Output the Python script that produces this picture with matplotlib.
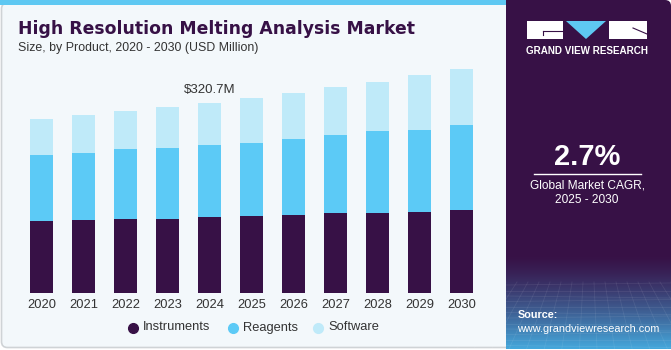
import matplotlib.pyplot as plt
import numpy as np
from matplotlib.patches import FancyBboxPatch, Rectangle, Polygon

years = ['2020', '2021', '2022', '2023', '2024', '2025', '2026', '2027', '2028', '2029', '2030']
instruments = [120.8, 122.5, 124.2, 125.2, 128.0, 129.2, 131.9, 134.3, 135.3, 137.0, 140.4]
reagents = [111.7, 112.9, 118.0, 119.6, 121.8, 124.0, 127.0, 131.9, 137.7, 138.2, 143.2]
software = [60.7, 64.5, 64.0, 68.6, 70.9, 75.3, 78.5, 80.9, 82.6, 92.2, 93.9]
series = ['Instruments', 'Reagents', 'Software']
colors = ['#371146', '#5ccaf6', '#bfeaf9']
highlight = 4
highlight_label = '$320.7M'

W, H = 671, 350
fig = plt.figure(figsize=(W / 100, H / 100), dpi=100)
fig.patch.set_facecolor('white')
plt.rcParams['font.family'] = ['Liberation Sans', 'DejaVu Sans']


def fx(px):
    return px / W


def fy(py):
    return 1 - py / H


# background panels
bg = fig.add_axes([0, 0, 1, 1])
bg.set_xlim(0, W)
bg.set_ylim(H, 0)
bg.axis('off')
bg.add_patch(FancyBboxPatch((1.5, 3), 520, 344.5, boxstyle='round,pad=0,rounding_size=6',
                            facecolor='#f3f8fb', edgecolor='#cfd3d6', linewidth=1.2))
bg.add_patch(Rectangle((0, 0), 506, 5, facecolor='#5ec8f2', edgecolor='none'))
bg.add_patch(FancyBboxPatch((506, 0), 165, 349, boxstyle='round,pad=0,rounding_size=6',
                            facecolor='#371146', edgecolor='none'))
bg.add_patch(Rectangle((506, 0), 10, 349, facecolor='#371146', edgecolor='none'))

# gradient at the bottom of the side panel
grad = np.linspace(0, 1, 100).reshape(-1, 1)
c1 = np.array([0x37, 0x11, 0x46]) / 255
c2 = np.array([0x45, 0xa8, 0xdc]) / 255
img = c1 + (c2 - c1) * (grad[..., None] ** 1.3)
bg.imshow(img, extent=(506, 671, 349, 255), aspect='auto', zorder=1)
for k in range(12):
    yy = 285 + k * 5.5
    bg.plot([506, 671], [yy, yy + (k % 3 - 1) * 2], color='white', alpha=0.08, lw=0.6, zorder=2)
for k in range(16):
    x0 = 506 + k * 11
    bg.plot([x0, 589 + (x0 - 589) * 1.6], [282, 349], color='white', alpha=0.08, lw=0.6, zorder=2)

# logo
bg.add_patch(Rectangle((527, 21), 36, 18, facecolor='white', edgecolor='none', zorder=3))
bg.add_patch(Polygon([(566, 21), (606, 21), (586, 39)], closed=True, facecolor='#5ec8f2',
                     edgecolor='none', zorder=3))
bg.add_patch(Rectangle((609, 21), 38, 18, facecolor='white', edgecolor='none', zorder=3))
bg.plot([543, 563], [31, 31], color='#371146', lw=0.8, zorder=4)
bg.plot([543, 543], [31, 35], color='#371146', lw=0.8, zorder=4)
bg.plot([633, 647], [28, 34], color='#371146', lw=0.8, zorder=4)
bg.text(587.5, 50.5, 'GRAND VIEW RESEARCH', color='white', fontsize=7.1, fontweight='bold',
        ha='center', va='center', zorder=4)

# CAGR block
bg.text(587, 157, '2.7%', color='white', fontsize=21, fontweight='bold', ha='center', va='center')
bg.plot([534, 641], [173.5, 173.5], color='white', lw=1)
bg.text(587, 185, 'Global Market CAGR,', color='white', fontsize=8.6, ha='center', va='center')
bg.text(587, 200, '2025 - 2030', color='white', fontsize=8.6, ha='center', va='center')
bg.text(518, 315, 'Source:', color='white', fontsize=7.8, fontweight='bold', ha='left', va='center', zorder=4)
bg.text(517, 329, 'www.grandviewresearch.com', color='white', fontsize=7.8, ha='left', va='center', zorder=4)

# titles
bg.text(18, 29, 'High Resolution Melting Analysis Market', color='#371146', fontsize=12.4,
        fontweight='heavy', ha='left', va='center', family=['DejaVu Sans'])
bg.text(18, 48, 'Size, by Product, 2020 - 2030 (USD Million)', color='#333333', fontsize=8.9,
        ha='left', va='center')

# chart
ax = fig.add_axes([fx(20.7), fy(293), fx(462), 233 / H])
ax.set_facecolor('none')
x = np.arange(len(years))
bottom = np.zeros(len(years))
for name, vals, col in zip(series, [instruments, reagents, software], colors):
    ax.bar(x, vals, width=0.55, bottom=bottom, color=col, label=name, zorder=2)
    bottom += np.array(vals)
ax.set_xlim(-0.5, len(years) - 0.5)
ax.set_ylim(0, 392.7)
ax.text(x[highlight], bottom[highlight] + 12, highlight_label, ha='center', va='bottom',
        fontsize=9.5, color='#333333')
ax.set_xticks(x)
ax.set_xticklabels(years, fontsize=9.3, color='#333333')
ax.tick_params(axis='x', length=0, pad=4)
ax.set_yticks([])
for s in ax.spines.values():
    s.set_visible(False)

# legend
for name, col, px in zip(series, colors, [133, 233, 318]):
    bg.plot(px, 328, 'o', color=col, markersize=7)
    bg.text(px + 10, 327.5, name, color='#333333', fontsize=9.3, ha='left', va='center')

fig.savefig('out.png', dpi=100, facecolor=fig.get_facecolor())
